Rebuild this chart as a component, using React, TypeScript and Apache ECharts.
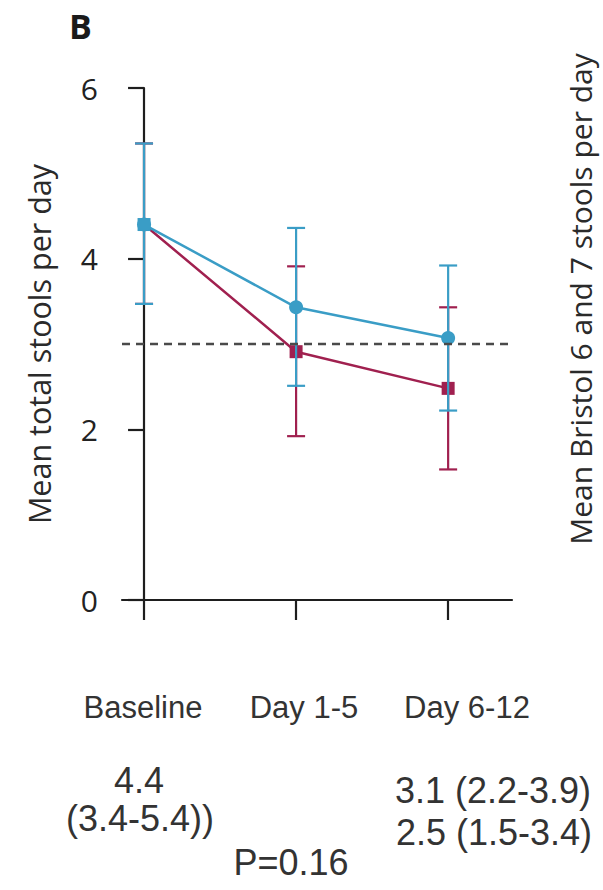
import React, { useEffect, useRef } from "react";
import * as echarts from "echarts";

// ---- data ----
const categories = ["Baseline", "Day 1-5", "Day 6-12"];
const categoryPos = [0, 1, 2];
const blueMean = [4.4, 3.43, 3.07];
const blueLow = [3.47, 2.51, 2.22];
const blueHigh = [5.35, 4.36, 3.92];
const redMean = [4.4, 2.91, 2.48];
const redLow = [3.47, 1.92, 1.53];
const redHigh = [5.35, 3.91, 3.43];
const referenceLevel = 3;
const yTicks = [0, 2, 4, 6];

const panelLetter = "B";
const leftAxisTitle = "Mean total stools per day";
const rightAxisTitle = "Mean Bristol 6 and 7 stools per day";
const baselineNote = ["4.4", "(3.4-5.4))"];
const lateNote = ["3.1 (2.2-3.9)", "2.5 (1.5-3.4)"];
const pValueNote = "P=0.16";

const BLUE = "#3a9dc6";
const RED = "#a0204f";
const AXIS = "#1e1e1e";
const TEXT = "#333333";

function errorBarSeries(low: number[], high: number[], color: string) {
  return {
    type: "custom",
    silent: true,
    data: categoryPos.map((x, i) => [x, low[i], high[i]]),
    encode: { x: 0, y: [1, 2] },
    renderItem: (params: any, api: any) => {
      const x = api.value(0);
      const lo = api.coord([x, api.value(1)]);
      const hi = api.coord([x, api.value(2)]);
      const hw = 9;
      const style = { stroke: color, lineWidth: 2.2 };
      return {
        type: "group",
        children: [
          { type: "line", shape: { x1: lo[0], y1: lo[1], x2: hi[0], y2: hi[1] }, style },
          { type: "line", shape: { x1: hi[0] - hw, y1: hi[1], x2: hi[0] + hw, y2: hi[1] }, style },
          { type: "line", shape: { x1: lo[0] - hw, y1: lo[1], x2: lo[0] + hw, y2: lo[1] }, style },
        ],
      };
    },
    z: 3,
  };
}

function txt(text: string, x: number, y: number, size: number, family: string, opts: any = {}) {
  const align = opts.align || "center";
  return {
    type: "text",
    x,
    y,
    rotation: opts.rotation || 0,
    silent: true,
    style: {
      text,
      fill: opts.fill || TEXT,
      fontSize: size,
      fontFamily: family,
      fontWeight: opts.weight || "normal",
      align,
      verticalAlign: "middle",
      textAlign: align,
      textVerticalAlign: "middle",
    },
  };
}

export default function App() {
  const ref = useRef<HTMLDivElement>(null);
  useEffect(() => {
    if (!ref.current) return;
    const chart = echarts.init(ref.current, undefined, { renderer: "svg" });
    const catLabelX = [143, 304, 467];
    chart.setOption({
      animation: false,
      backgroundColor: "#ffffff",
      grid: { left: 122, top: 88, right: 91, bottom: 290, containLabel: false },
      xAxis: {
        type: "value",
        min: -0.145,
        max: 2.42,
        axisLine: { show: true, onZero: false, lineStyle: { color: AXIS, width: 2.2 } },
        axisTick: { show: true, customValues: categoryPos, length: 20, inside: false, lineStyle: { color: AXIS, width: 2.2 } },
        axisLabel: { show: false },
        splitLine: { show: false },
      },
      yAxis: {
        type: "value",
        min: 0,
        max: 6,
        interval: 2,
        axisLine: { show: true, lineStyle: { color: AXIS, width: 2.2 } },
        axisTick: { show: true, length: 16, inside: false, lineStyle: { color: AXIS, width: 2.2 }, customValues: yTicks },
        axisLabel: { show: true, customValues: yTicks, margin: 24, fontSize: 30, fontFamily: "Open Sans", color: "#222" },
        splitLine: { show: false },
      },
      series: [
        {
          type: "line",
          data: categoryPos.map((x, i) =>
            i === 0 ? { value: [x, redMean[i]], itemStyle: { color: BLUE } } : [x, redMean[i]]
          ),
          symbol: "rect",
          symbolSize: 13,
          itemStyle: { color: RED },
          lineStyle: { color: RED, width: 2.5 },
          silent: true,
          z: 2,
          markLine: {
            silent: true,
            symbol: "none",
            label: { show: false },
            lineStyle: { color: "#4a4a4a", width: 2.4, type: [8, 6] },
            data: [{ yAxis: referenceLevel }],
          },
        },
        errorBarSeries(redLow, redHigh, RED),
        errorBarSeries(blueLow, blueHigh, BLUE),
        {
          type: "line",
          data: categoryPos.map((x, i) => [x, blueMean[i]]),
          symbol: "circle",
          symbolSize: 14,
          itemStyle: { color: BLUE },
          lineStyle: { color: BLUE, width: 2.5 },
          silent: true,
          z: 4,
        },
      ],
      graphic: [
        txt(panelLetter, 69, 26, 34, "Open Sans", { align: "left", weight: "bold", fill: "#1a1a1a" }),
        txt(leftAxisTitle, 39, 344, 30.5, "Open Sans", { rotation: Math.PI / 2, fill: "#2a2a2a" }),
        txt(rightAxisTitle, 580, 299, 30, "Open Sans", { rotation: Math.PI / 2, fill: "#2a2a2a" }),
        ...categories.map((c, i) => txt(c, catLabelX[i], 707, 31, "Liberation Sans")),
        txt(baselineNote[0], 139, 780, 36, "Liberation Sans"),
        txt(baselineNote[1], 140, 818, 36, "Liberation Sans"),
        txt(lateNote[0], 493, 790, 36, "Liberation Sans"),
        txt(lateNote[1], 494, 832, 36, "Liberation Sans"),
        txt(pValueNote, 291, 862, 36, "Liberation Sans"),
      ],
    });
    return () => chart.dispose();
  }, []);
  return <div ref={ref} style={{ position: "absolute", left: 0, top: 0, width: 603, height: 890 }} />;
}
